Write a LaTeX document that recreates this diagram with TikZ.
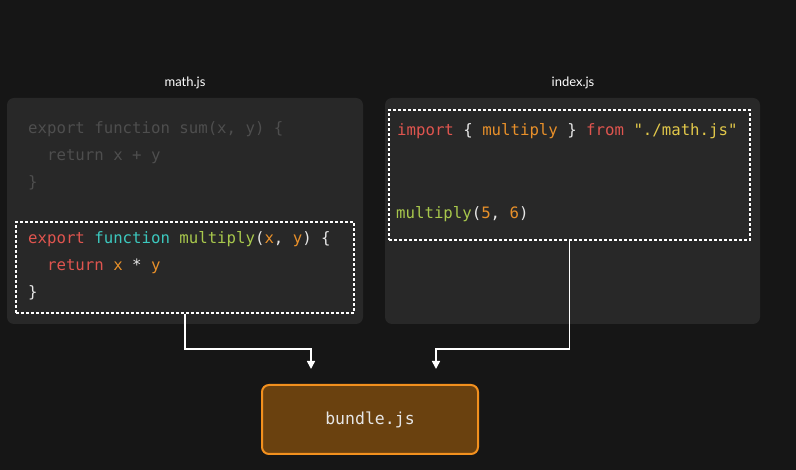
\documentclass[tikz,border=0pt]{standalone}
\usepackage{fontspec}
\usetikzlibrary{arrows.meta}
\newfontfamily\codefont{DejaVu Sans Mono}
\newfontfamily\labelfont{Lato}
\definecolor{bgc}{HTML}{161616}
\definecolor{panelc}{HTML}{282828}
\definecolor{dimc}{HTML}{4E4E4E}
\definecolor{kwred}{HTML}{E0554F}
\definecolor{kwcyan}{HTML}{3CC8BE}
\definecolor{fngreen}{HTML}{A8C84C}
\definecolor{argor}{HTML}{E8902A}
\definecolor{strye}{HTML}{E2C84A}
\definecolor{punc}{HTML}{E6E6E6}
\definecolor{bundfill}{HTML}{6A410F}
\definecolor{bundedge}{HTML}{F2901E}
\newcommand{\R}[1]{\textcolor{kwred}{#1}}
\newcommand{\C}[1]{\textcolor{kwcyan}{#1}}
\newcommand{\G}[1]{\textcolor{fngreen}{#1}}
\newcommand{\OR}[1]{\textcolor{argor}{#1}}
\newcommand{\Y}[1]{\textcolor{strye}{#1}}
\tikzset{
  panel/.style={fill=panelc, rounded corners=7pt, inner sep=0pt},
  selbox/.style={draw=white, line width=1.5pt, dash pattern=on 3pt off 2pt, inner sep=0pt},
  codeline/.style={anchor=mid west, inner sep=0pt, text=punc, font=\codefont\fontsize{15.7}{18}\selectfont},
  filelabel/.style={text=white, font=\labelfont\fontsize{13}{15}\selectfont, inner sep=0pt},
  conn/.style={draw=white, line width=1.6pt, -{Triangle[width=8pt,length=8pt]}},
  bundlebox/.style={fill=bundfill, draw=bundedge, line width=2pt, rounded corners=7pt, inner sep=0pt, text=punc, font=\codefont\fontsize{16.5}{18}\selectfont}
}
\begin{document}
\begin{tikzpicture}[x=1pt,y=-1pt]
\fill[bgc] (0,0) rectangle (796,470);
\useasboundingbox (0,0) rectangle (796,470);
% panels
\node[panel, minimum width=356pt, minimum height=226pt] (mathpanel) at (185,211) {};
\node[panel, minimum width=375pt, minimum height=226pt] (indexpanel) at (572.5,211) {};
\node[filelabel] (mathlabel) at (185,83) {math.js};
\node[filelabel] (indexlabel) at (573,83) {index.js};
% math.js code
\node[codeline, text=dimc] (m1) at (28,131.5) {export function sum(x, y) \{};
\node[codeline, text=dimc] (m2) at (28,158.5) {\ \ return x + y};
\node[codeline, text=dimc] (m3) at (28,185.5) {\}};
\node[codeline] (m4) at (28,241.5) {\R{export} \C{function} \G{multiply}(\OR{x}, \OR{y}) \{};
\node[codeline] (m5) at (28,268.5) {\ \ \R{return} \OR{x} * \OR{y}};
\node[codeline] (m6) at (28,295.5) {\}};
% index.js code
\node[codeline] (i1) at (397,133.5) {\R{import} \{ \OR{multiply} \} \R{from} \Y{"./math.js"}};
\node[codeline] (i2) at (396,216.5) {\G{multiply}(\OR{5}, \OR{6})};
% selection boxes
\node[selbox, minimum width=338pt, minimum height=91pt] (mathsel) at (185,267.5) {};
\node[selbox, minimum width=361pt, minimum height=130pt] (indexsel) at (569.5,175) {};
% bundle
\node[bundlebox, minimum width=216pt, minimum height=69pt] (bundle) at (370,419.5) {bundle.js};
% connectors
\coordinate (lend) at (311,369);
\coordinate (rend) at (436,369);
\draw[conn] (mathsel.south) -- ++(0,35) -| (lend);
\draw[conn] (indexsel.south) -- ++(0,108) -| (rend);
\end{tikzpicture}
\end{document}
